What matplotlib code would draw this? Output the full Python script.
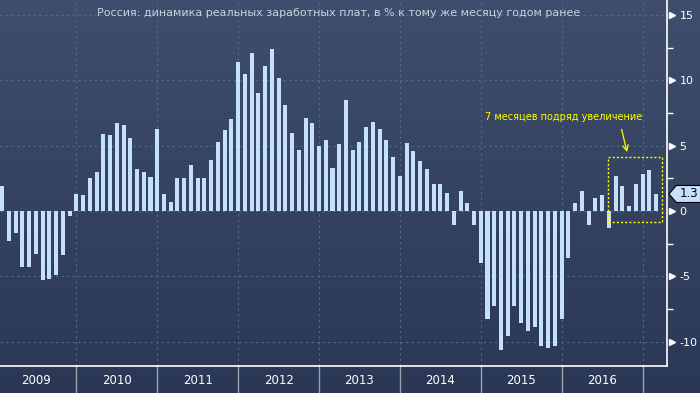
import matplotlib
matplotlib.use("Agg")
import matplotlib.pyplot as plt
import numpy as np
from matplotlib.colors import LinearSegmentedColormap
from matplotlib.patches import Polygon, Rectangle

title = "Россия: динамика реальных заработных плат, в % к тому же месяцу годом ранее"
first_year = 2009
year_labels = ["2009", "2010", "2011", "2012", "2013", "2014", "2015", "2016"]
wages = [
    1.9, -2.3, -1.7, -4.3, -4.3, -3.3, -5.3, -5.2, -4.9, -3.4, -0.4, 1.3,    # 2009
    1.2, 2.5, 3.0, 5.9, 5.8, 6.7, 6.6, 5.6, 3.2, 3.0, 2.6, 6.3,               # 2010
    1.3, 0.7, 2.5, 2.5, 3.5, 2.5, 2.5, 3.9, 5.3, 6.2, 7.0, 11.4,              # 2011
    10.5, 12.1, 9.0, 11.1, 12.4, 10.2, 8.1, 6.0, 4.7, 7.1, 6.7, 5.0,          # 2012
    5.4, 3.3, 5.1, 8.5, 4.7, 5.3, 6.4, 6.8, 6.3, 5.4, 4.1, 2.7,               # 2013
    5.2, 4.6, 3.8, 3.2, 2.1, 2.1, 1.4, -1.1, 1.5, 0.6, -1.1, -4.0,            # 2014
    -8.3, -7.3, -10.6, -9.6, -7.3, -8.6, -9.2, -8.9, -10.3, -10.5, -10.3, -8.3,  # 2015
    -3.6, 0.6, 1.5, -1.1, 1.0, 1.2, -1.3, 2.7, 1.9, 0.4, 2.1, 2.8,            # 2016
    3.1, 1.3,                                                                 # 2017
]
last_label = "1.3"
note = "7 месяцев подряд увеличение"
streak = 7

BG_TOP = "#3f4e6c"
BG_BOTTOM = "#2a3855"
BAR = "#c4e0fa"
GRID = "#4d6d8d"
NOTE = "#ffff00"

plt.rcParams["axes.unicode_minus"] = False
plt.rcParams["font.family"] = ["DejaVu Sans"]

fig = plt.figure(figsize=(7, 3.93), dpi=100)
fig.patch.set_facecolor(BG_BOTTOM)

# vertical gradient background
bg = fig.add_axes([0, 0, 1, 1], zorder=-1)
bg.axis("off")
cmap = LinearSegmentedColormap.from_list("bg", [BG_TOP, BG_BOTTOM])
bg.imshow(np.linspace(0, 1, 256).reshape(-1, 1), aspect="auto", cmap=cmap,
          extent=[0, 1, 0, 1])

ax = fig.add_axes([0, 27 / 393, 667 / 700, 366 / 393])
ax.patch.set_alpha(0)

# bars sit at month end: month k ends at k months after Jan 1 of first year
x = np.arange(1, len(wages) + 1)
ax.bar(x, wages, width=0.6, color=BAR, zorder=3)

ax.set_xlim(0.67, 99.63)
ax.set_ylim(-11.86, 16.14)

# grid
major = [-10, -5, 0, 5, 10, 15]
minor = [-7.5, -2.5, 2.5, 7.5, 12.5]
for v in major:
    ax.axhline(v, color=GRID, lw=0.8, ls=(0, (2, 3)), zorder=1)
boundaries = [12 * k for k in range(1, len(year_labels) + 1)]
for b in boundaries:
    ax.axvline(b, color=GRID, lw=0.8, ls=(0, (2, 3)), zorder=1)

# spines / axis
for s in ["left", "top"]:
    ax.spines[s].set_visible(False)
ax.spines["right"].set_color("white")
ax.spines["bottom"].set_color("white")
ax.spines["right"].set_linewidth(1.2)
ax.spines["bottom"].set_linewidth(1.2)
ax.set_xticks([])
ax.yaxis.tick_right()
ax.set_yticks(major)
ax.set_yticklabels([str(v) for v in major])
ax.set_yticks(minor, minor=True)
ax.tick_params(axis="y", which="major", length=0, pad=9, colors="white", labelsize=8)
ax.tick_params(axis="y", which="minor", length=4, width=1, colors="white")

ytr = ax.get_yaxis_transform()
ax.plot([1.007] * len(major), major, ls="none", marker=">", ms=5, color="white",
        transform=ytr, clip_on=False)

# year labels and separators below the axis
xtr = ax.get_xaxis_transform()
for b in boundaries:
    ax.plot([b, b], [0, -27 / 366], color="#9aa3ad", lw=1, transform=xtr, clip_on=False)
for k, lab in enumerate(year_labels):
    ax.text(12 * k + 6, -15 / 366, lab, color="white", fontsize=8.5,
            ha="center", va="center", transform=xtr)

# last value tag
v = wages[-1]
h = 0.65
tag = Polygon([[1.003, v], [1.014, v + h], [1.06, v + h], [1.06, v - h], [1.014, v - h]],
              closed=True, facecolor="#c6e0fa", edgecolor="black", lw=0.8,
              transform=ytr, clip_on=False, zorder=5)
ax.add_patch(tag)
ax.text(1.033, v, last_label, transform=ytr, ha="center", va="center",
        fontsize=8.5, color="black", zorder=6)

# annotation of the growth streak
x0 = x[-streak] - 1.1
x1 = x[-1] + 0.9
top = max(wages[-streak:]) + 1.0
ax.add_patch(Rectangle((x0, -0.86), x1 - x0, top + 0.86, fill=False,
                       edgecolor=NOTE, lw=1, ls=(0, (1.5, 1.5)), zorder=4))
ax.text(84.3, 7.2, note, color=NOTE, fontsize=7, ha="center", va="center")
ax.annotate("", xy=(93.8, top + 0.2), xytext=(92.8, 6.45),
            arrowprops=dict(arrowstyle="->", color=NOTE, lw=0.9))

fig.text(339 / 700, 1 - 13 / 393, title, color="#c9d2df", fontsize=8,
         ha="center", va="center")

fig.savefig("out.png", dpi=100, facecolor=fig.get_facecolor())
